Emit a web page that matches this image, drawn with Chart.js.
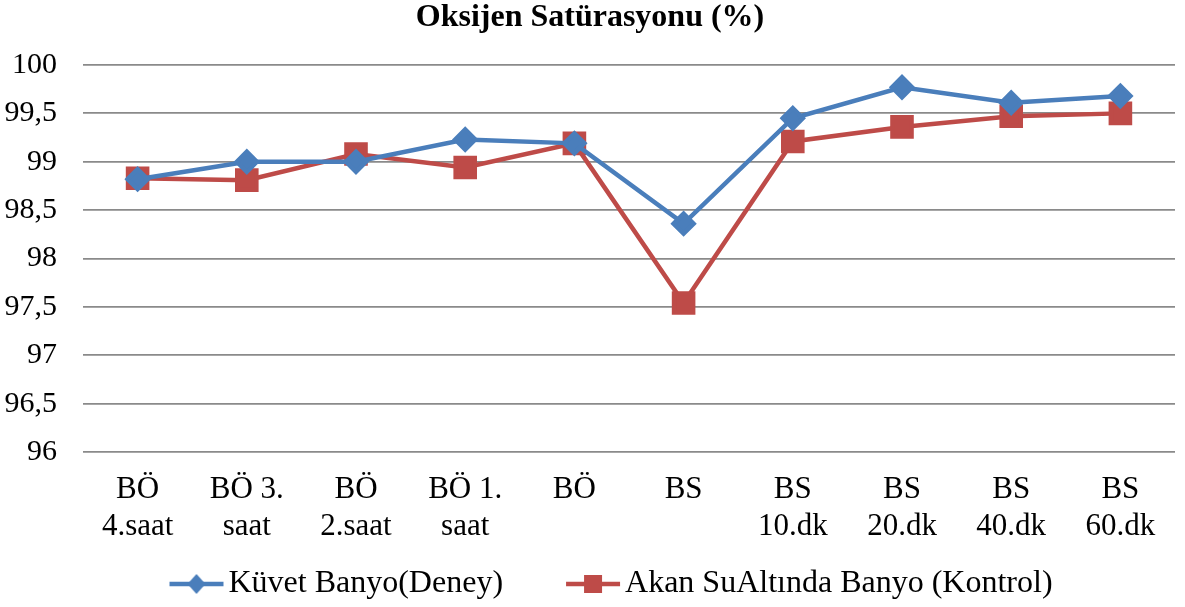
<!DOCTYPE html>
<html>
<head>
<meta charset="utf-8">
<script src="https://cdn.jsdelivr.net/npm/chart.js@4/dist/chart.umd.min.js"></script>
<style>
    html, body { margin: 0; padding: 0; background: #fff; }
    #wrap { width: 1185px; height: 607px; }
</style>
</head>
<body>
<div id="wrap"><canvas id="satChart"></canvas></div>
<script>
const categories = [
    ['BÖ', '4.saat'], ['BÖ 3.', 'saat'], ['BÖ', '2.saat'], ['BÖ 1.', 'saat'], 'BÖ',
    'BS', ['BS', '10.dk'], ['BS', '20.dk'], ['BS', '40.dk'], ['BS', '60.dk']
];
const kuvetValues = [98.82, 99.0, 99.0, 99.23, 99.19, 98.36, 99.45, 99.77, 99.61, 99.68];
const akanValues = [98.83, 98.81, 99.08, 98.94, 99.19, 97.54, 99.21, 99.36, 99.47, 99.50];
const seriesNames = ['Küvet Banyo(Deney)', 'Akan SuAltında Banyo (Kontrol)'];

const BLUE = '#4A7EBB';
const RED = '#BE4B48';
const FONT = "'Liberation Serif', 'Times New Roman', serif";

// legend symbol: short line with the marker on it (blank strip on the left for spacing)
const ICON_BLANK = 53;
function legendIcon(color, style) {
    const c = document.createElement('canvas');
    c.width = ICON_BLANK + 58; c.height = 24;
    const g = c.getContext('2d');
    const x0 = ICON_BLANK, mid = x0 + 29;
    g.strokeStyle = color;
    g.lineWidth = 4.5;
    g.beginPath(); g.moveTo(x0 + 2, 12); g.lineTo(x0 + 56, 12); g.stroke();
    g.fillStyle = color;
    if (style === 'rectRot') {
        g.beginPath(); g.moveTo(mid, 2); g.lineTo(mid + 9, 12); g.lineTo(mid, 22); g.lineTo(mid - 9, 12); g.closePath(); g.fill();
    } else {
        g.fillRect(mid - 9, 3, 18, 18);
    }
    return c;
}

new Chart(document.getElementById('satChart'), {
    type: 'line',
    data: {
        labels: categories,
        datasets: [{
            label: seriesNames[0],
            data: kuvetValues,
            borderColor: BLUE,
            backgroundColor: BLUE,
            borderWidth: 4.5,
            pointStyle: 'rectRot',
            pointRadius: 10,
            pointHoverRadius: 10,
            tension: 0
        }, {
            label: seriesNames[1],
            data: akanValues,
            borderColor: RED,
            backgroundColor: RED,
            borderWidth: 4.5,
            pointStyle: 'rect',
            pointRadius: 13.5,
            pointHoverRadius: 13.5,
            tension: 0
        }]
    },
    options: {
        responsive: true,
        maintainAspectRatio: false,
        animation: false,
        layout: { autoPadding: false, padding: { left: 5, right: 10, top: 0, bottom: -3 } },
        plugins: {
            title: {
                display: true,
                text: 'Oksijen Satürasyonu (%)',
                color: '#000',
                font: { family: FONT, size: 32, weight: 'bold', lineHeight: 1.0 },
                padding: { top: 2, bottom: 31 }
            },
            legend: {
                position: 'bottom',
                labels: {
                    color: '#000',
                    font: { family: FONT, size: 32 },
                    usePointStyle: true,
                    pointStyleWidth: ICON_BLANK + 32,
                    padding: 21,
                    generateLabels: function (chart) {
                        return chart.data.datasets.map((ds, i) => ({
                            text: ds.label,
                            fillStyle: ds.borderColor,
                            strokeStyle: ds.borderColor,
                            pointStyle: legendIcon(ds.borderColor, ds.pointStyle),
                            datasetIndex: i,
                            hidden: false,
                            fontColor: '#000'
                        }));
                    }
                }
            },
            tooltip: { enabled: false }
        },
        scales: {
            x: {
                offset: true,
                grid: { display: false, drawTicks: false },
                border: { display: false },
                ticks: {
                    color: '#000',
                    font: { family: FONT, size: 31, lineHeight: 1.2 },
                    padding: 19,
                    maxRotation: 0,
                    autoSkip: false
                },
                afterFit: scale => { scale.height = 95; }
            },
            y: {
                min: 96,
                max: 100,
                grid: { color: '#8a8a8a', lineWidth: 1.8, drawTicks: false },
                border: { display: false },
                ticks: {
                    stepSize: 0.5,
                    color: '#000',
                    font: { family: FONT, size: 30 },
                    padding: 26,
                    callback: v => String(v).replace('.', ',')
                },
                afterFit: scale => { scale.width = 78; }
            }
        }
    }
});
</script>
</body>
</html>
